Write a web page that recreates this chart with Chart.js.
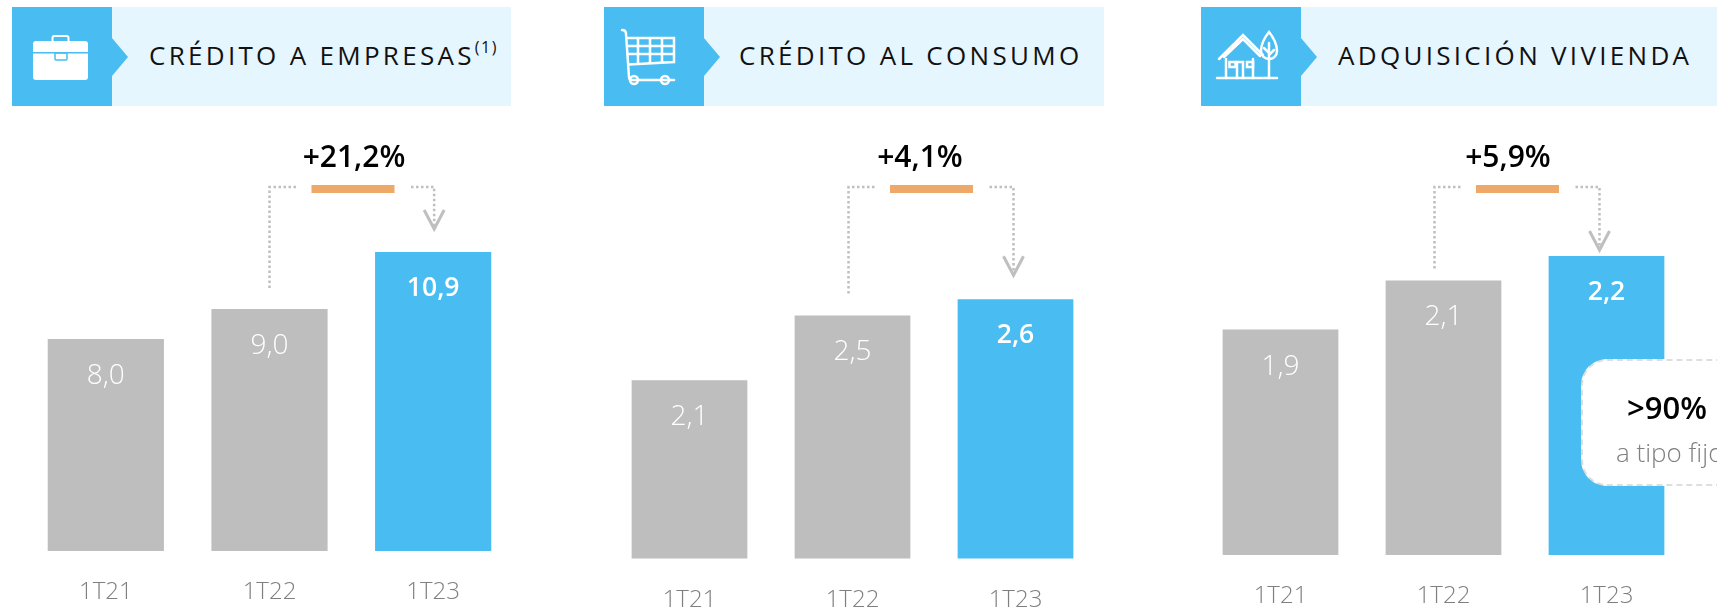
<!DOCTYPE html>
<html lang="es">
<head>
<meta charset="utf-8">
<title>Crédito</title>
<script src="https://cdn.jsdelivr.net/npm/chart.js@4/dist/chart.umd.min.js"></script>
<style>
  html, body { margin: 0; padding: 0; background: #fff; }
  body { position: relative; width: 1717px; height: 610px; overflow: hidden; font-family: "Open Sans", sans-serif; }
  canvas { position: absolute; top: 0; }
  .cabecera { position: absolute; top: 7px; height: 99px; background: #e6f6ff; }
  .icono { position: absolute; left: 0; top: 0; width: 100px; height: 99px; background: #49bcf1; }
  .icono svg { position: absolute; left: 0; top: 0; overflow: visible; }
  .titulo { position: absolute; top: 0; line-height: 97px; font-size: 26px; letter-spacing: 3.3px; color: #111; white-space: nowrap; }
  .titulo sup { font-size: 16px; letter-spacing: 1.5px; vertical-align: 12px; line-height: 0; }
  .variacion { position: absolute; top: 136px; width: 160px; text-align: center; font-size: 30px; font-weight: 600; line-height: 40px; color: #000; z-index: 2; }
  .nota { position: absolute; left: 1581px; top: 359px; width: 172px; height: 127px; box-sizing: border-box; background: #fff; border: 2px dashed #dedede; border-radius: 26px; text-align: center; z-index: 3; }
  .nota b { position: absolute; left: 0; right: 0; top: 26px; font-size: 31px; font-weight: 600; line-height: 40px; color: #000; }
  .nota span { position: absolute; left: 33px; top: 72px; font-size: 26px; font-weight: 300; line-height: 38px; color: #7f7f7f; white-space: nowrap; }
</style>
</head>
<body>
<script>
// Datos
const periodos = ['1T21', '1T22', '1T23'];
const valoresEmpresas = [8.0, 9.0, 10.9];
const valoresConsumo = [2.1, 2.5, 2.6];
const valoresVivienda = [1.9, 2.1, 2.2];
const titulos = ['CRÉDITO A EMPRESAS', 'CRÉDITO AL CONSUMO', 'ADQUISICIÓN VIVIENDA'];
const variaciones = ['+21,2%', '+4,1%', '+5,9%'];

const GRIS = '#bebebe';
const AZUL = '#49bcf1';
const NARANJA = '#eea868';
const FUENTE = '"Open Sans", sans-serif';

// Iconos en coordenadas locales de la caja azul
const iconos = {
  maletin: `<svg width="100" height="99" fill="#fff">
    <rect x="21" y="34" width="55" height="39" rx="3"/>
    <rect x="40.5" y="29" width="16" height="8" rx="2" fill="none" stroke="#fff" stroke-width="2"/>
    <rect x="21" y="45" width="55" height="1.5" fill="${AZUL}"/>
    <rect x="43" y="46" width="12" height="7" rx="1" fill="none" stroke="${AZUL}" stroke-width="1.5"/>
  </svg>`,
  carrito: `<svg width="100" height="99" fill="none" stroke="#fff" stroke-width="2.5" stroke-linecap="round">
    <path d="M18 23 q4 0 4 4 l3 43 q0 3 3 3 h42"/>
    <path d="M23 31 h47 v24 l-45 2.5 M23.500 39 h46.500 M24 47 h46 M34 31 v25.500 M46 31 v25 M58 31 v24"/>
    <circle cx="30" cy="73" r="4"/><circle cx="61" cy="73" r="4"/>
  </svg>`,
  casa: `<svg width="100" height="99" fill="none" stroke="#fff" stroke-width="2.5" stroke-linecap="round">
    <path d="M16 71 h60"/>
    <path d="M18 52 l24 -24 l20 20 M23 50 l19 -18 l17 17"/>
    <path d="M25 52 v19 M52 52 v19"/>
    <rect x="28.500" y="55" width="6" height="5"/><rect x="46" y="55" width="6" height="5"/>
    <path d="M36 71 v-16 h6 v16"/>
    <path d="M68 25 c-4 5 -8 12 -8 19 c0 5 4 8 8 8 c4 0 8 -3 8 -8 c0 -7 -4 -14 -8 -19 z"/>
    <path d="M68 36 v35 M63 41 l5 5 M73 43 l-5 5"/>
  </svg>`
};

// Geometría de cada panel
const paneles = [
  { valores: valoresEmpresas, icono: iconos.maletin, cabX: 12, cabW: 499, tituloX: 137, sup: '(1)',
    izq: 24, ancho: 491, min: 0.93, max: 12, arriba: 219, base: 551,
    conIzq: 0, conDer: 1, hueco: [20, 23], naranja: 353, centro: 354 },
  { valores: valoresConsumo, icono: iconos.carrito, cabX: 604, cabW: 500, tituloX: 135, sup: '',
    izq: 607.5, ancho: 489, min: 1, max: 3, arriba: 234.5, base: 558.5,
    conIzq: -4, conDer: -2, hueco: [20, 24], naranja: 931, centro: 920 },
  { valores: valoresVivienda, icono: iconos.casa, cabX: 1201, cabW: 516, tituloX: 137, sup: '',
    izq: 1198.5, ancho: 489, min: 0.98, max: 2.4, arriba: 207, base: 555,
    conIzq: -9, conDer: -7, hueco: [12, 6], naranja: 1517, centro: 1508 }
];

const formato = v => v.toFixed(1).replace('.', ',');

// Etiquetas blancas dentro de las barras
const etiquetasBarras = {
  id: 'etiquetasBarras',
  afterDatasetsDraw(chart) {
    const ctx = chart.ctx;
    const barras = chart.getDatasetMeta(0).data;
    ctx.save();
    ctx.textAlign = 'center';
    ctx.textBaseline = 'middle';
    ctx.fillStyle = '#fff';
    barras.forEach((barra, i) => {
      const destacada = i === 2;
      ctx.font = (destacada ? '600 26.5px ' : '300 28px ') + FUENTE;
      ctx.fillText(formato(chart.data.datasets[0].data[i]), barra.x, barra.y + (destacada ? 36 : 37));
    });
    ctx.restore();
  }
};

// Conector punteado con flecha y barra naranja
const conector = {
  id: 'conector',
  afterDatasetsDraw(chart, args, opts) {
    const ctx = chart.ctx;
    const barras = chart.getDatasetMeta(0).data;
    const cimaY = 187;
    const xIzq = barras[1].x + opts.conIzq;
    const xDer = barras[2].x + opts.conDer;
    const finIzq = barras[1].y - opts.hueco[0];
    const finDer = barras[2].y - opts.hueco[1];
    const xNaranja = opts.naranja - opts.izq;

    ctx.save();
    ctx.fillStyle = NARANJA;
    ctx.fillRect(xNaranja - 41.5, 185, 83, 8);

    ctx.strokeStyle = '#bfbfbf';
    ctx.lineWidth = 2.500;
    ctx.setLineDash([2.500, 2.500]);
    ctx.beginPath();
    ctx.moveTo(xNaranja - 57, cimaY);
    ctx.lineTo(xIzq, cimaY);
    ctx.lineTo(xIzq, finIzq);
    ctx.moveTo(xNaranja + 58, cimaY);
    ctx.lineTo(xDer, cimaY);
    ctx.lineTo(xDer, finDer);
    ctx.stroke();

    ctx.setLineDash([]);
    ctx.lineWidth = 3;
    ctx.beginPath();
    ctx.moveTo(xDer - 10, finDer - 19);
    ctx.lineTo(xDer, finDer);
    ctx.lineTo(xDer + 10, finDer - 19);
    ctx.stroke();
    ctx.restore();
  }
};

function crearCabecera(panel, titulo) {
  const cab = document.createElement('div');
  cab.className = 'cabecera';
  cab.style.left = panel.cabX + 'px';
  cab.style.width = panel.cabW + 'px';
  cab.innerHTML = `<div class="icono">${panel.icono}
      <svg width="117" height="99"><polygon points="100,31 116,50 100,69" fill="${AZUL}"/></svg>
    </div>
    <div class="titulo" style="left:${panel.tituloX}px">${titulo}${panel.sup ? '<sup>' + panel.sup + '</sup>' : ''}</div>`;
  document.body.appendChild(cab);
}

function crearGrafica(panel, variacion) {
  const canvas = document.createElement('canvas');
  canvas.width = panel.ancho;
  canvas.height = 610;
  canvas.style.left = panel.izq + 'px';
  canvas.style.width = panel.ancho + 'px';
  canvas.style.height = '610px';
  document.body.appendChild(canvas);

  new Chart(canvas.getContext('2d'), {
    type: 'bar',
    data: {
      labels: periodos,
      datasets: [{
        data: panel.valores,
        backgroundColor: [GRIS, GRIS, AZUL],
        barPercentage: 0.71,
        categoryPercentage: 1
      }]
    },
    options: {
      responsive: false,
      animation: false,
      layout: { padding: { top: panel.arriba, left: 0, right: 0, bottom: 0 } },
      plugins: {
        legend: { display: false },
        tooltip: { enabled: false },
        conector: panel
      },
      scales: {
        y: { display: false, min: panel.min, max: panel.max },
        x: {
          afterFit: escala => { escala.height = 610 - panel.base; },
          border: { display: false },
          grid: { display: false },
          ticks: {
            color: '#7f7f7f',
            padding: 19,
            maxRotation: 0,
            font: { family: FUENTE, size: 24, weight: '300' }
          }
        }
      }
    },
    plugins: [etiquetasBarras, conector]
  });

  const texto = document.createElement('div');
  texto.className = 'variacion';
  texto.textContent = variacion;
  texto.style.left = (panel.centro - 80) + 'px';
  document.body.appendChild(texto);
}

paneles.forEach((panel, i) => {
  crearCabecera(panel, titulos[i]);
  crearGrafica(panel, variaciones[i]);
});

// Nota de la tercera gráfica, cortada por el borde como en el original
const nota = document.createElement('div');
nota.className = 'nota';
nota.innerHTML = '<b>&gt;90%</b><span>a tipo fijo</span>';
document.body.appendChild(nota);
</script>
</body>
</html>
